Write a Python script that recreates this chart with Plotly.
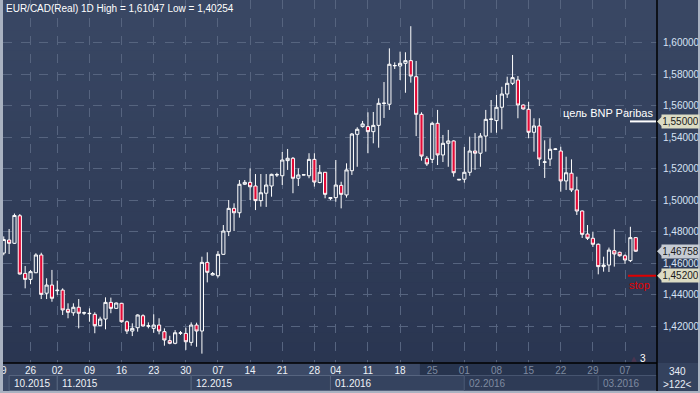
import plotly.graph_objects as go

# ---------------- data (EUR/CAD daily) ----------------
opens = [1.4664, 1.4747, 1.4726, 1.4901, 1.4535, 1.4497, 1.4539, 1.4652, 1.4409, 1.4461,
         1.4425, 1.4429, 1.4307, 1.4285, 1.4320, 1.4283, 1.4279, 1.4275, 1.4203, 1.4245,
         1.4351, 1.4313, 1.4345, 1.4228, 1.4169, 1.4190, 1.4266, 1.4200, 1.4186, 1.4207,
         1.4165, 1.4108, 1.4091, 1.4155, 1.4154, 1.4097, 1.4207, 1.4169, 1.4605, 1.4525,
         1.4520, 1.4656, 1.4800, 1.4948, 1.4920, 1.5101, 1.5113, 1.5090, 1.4997, 1.5044,
         1.5090, 1.5160, 1.5155, 1.5251, 1.5266, 1.5139, 1.5160, 1.5155, 1.5259, 1.5112,
         1.5177, 1.5010, 1.5016, 1.5094, 1.5033, 1.5187, 1.5418, 1.5467, 1.5467, 1.5435,
         1.5475, 1.5614, 1.5609, 1.5853, 1.5852, 1.5869, 1.5886, 1.5784, 1.5545, 1.5266,
         1.5259, 1.5488, 1.5287, 1.5361, 1.5376, 1.5128, 1.5133, 1.5177, 1.5312, 1.5298,
         1.5407, 1.5512, 1.5505, 1.5590, 1.5674, 1.5742, 1.5763, 1.5604, 1.5577, 1.5431,
         1.5471, 1.5240, 1.5261, 1.5322, 1.5312, 1.5122, 1.5171, 1.5065, 1.4931, 1.4785,
         1.4758, 1.4720, 1.4578, 1.4588, 1.4679, 1.4669, 1.4647, 1.4616, 1.4762]
highs = [1.4770, 1.4817, 1.4915, 1.4912, 1.4582, 1.4557, 1.4663, 1.4666, 1.4504, 1.4557,
         1.4489, 1.4440, 1.4345, 1.4345, 1.4372, 1.4292, 1.4313, 1.4288, 1.4260, 1.4383,
         1.4381, 1.4350, 1.4348, 1.4235, 1.4218, 1.4275, 1.4275, 1.4224, 1.4275, 1.4250,
         1.4186, 1.4139, 1.4175, 1.4169, 1.4190, 1.4224, 1.4222, 1.4641, 1.4669, 1.4544,
         1.4677, 1.4842, 1.5001, 1.4980, 1.5128, 1.5128, 1.5202, 1.5166, 1.5166, 1.5166,
         1.5168, 1.5174, 1.5306, 1.5325, 1.5274, 1.5202, 1.5163, 1.5298, 1.5298, 1.5223,
         1.5179, 1.5018, 1.5255, 1.5117, 1.5234, 1.5426, 1.5463, 1.5503, 1.5558, 1.5560,
         1.5647, 1.5750, 1.5964, 1.5875, 1.5943, 1.5939, 1.61047, 1.5884, 1.5558, 1.5280,
         1.5498, 1.5573, 1.5414, 1.5446, 1.5380, 1.5134, 1.5338, 1.5403, 1.5426, 1.5426,
         1.5573, 1.5636, 1.5668, 1.5720, 1.5784, 1.5922, 1.5788, 1.5608, 1.5625, 1.5520,
         1.5520, 1.5380, 1.5393, 1.5330, 1.5339, 1.5276, 1.5259, 1.5149, 1.4935, 1.4842,
         1.4800, 1.4725, 1.4641, 1.4699, 1.4815, 1.4673, 1.4656, 1.4831, 1.4765]
lows = [1.4650, 1.4658, 1.4722, 1.4528, 1.4440, 1.4466, 1.4537, 1.4372, 1.4372, 1.4355,
        1.4398, 1.4271, 1.4250, 1.4266, 1.4186, 1.4271, 1.4228, 1.4155, 1.4201, 1.4180,
        1.4282, 1.4310, 1.4222, 1.4150, 1.4137, 1.4165, 1.4197, 1.4186, 1.4158, 1.4148,
        1.4076, 1.4085, 1.4085, 1.4144, 1.4049, 1.4076, 1.4069, 1.40254, 1.4478, 1.4522,
        1.4508, 1.4654, 1.4772, 1.4804, 1.4889, 1.5096, 1.5001, 1.4937, 1.4959, 1.4957,
        1.5022, 1.5147, 1.5096, 1.5192, 1.5044, 1.5090, 1.5158, 1.5139, 1.5086, 1.5107,
        1.5012, 1.5000, 1.4990, 1.4948, 1.5016, 1.5160, 1.5212, 1.5461, 1.5298, 1.5361,
        1.5333, 1.5522, 1.5573, 1.5833, 1.5763, 1.5682, 1.5746, 1.5407, 1.5251, 1.5217,
        1.5236, 1.5223, 1.5242, 1.5212, 1.5149, 1.5126, 1.5111, 1.5155, 1.5192, 1.5212,
        1.5308, 1.5428, 1.5428, 1.5450, 1.5649, 1.5731, 1.5520, 1.5575, 1.5393, 1.5308,
        1.5217, 1.5141, 1.5217, 1.5318, 1.5054, 1.5065, 1.5052, 1.4906, 1.4760, 1.4747,
        1.4703, 1.4529, 1.4546, 1.4544, 1.4578, 1.4641, 1.4595, 1.4607, 1.4672]
closes = [1.4750, 1.4726, 1.4903, 1.4531, 1.4497, 1.4546, 1.4652, 1.4402, 1.4461, 1.4377,
          1.4428, 1.4303, 1.4288, 1.4320, 1.4282, 1.4285, 1.4281, 1.4203, 1.4245, 1.4351,
          1.4313, 1.4347, 1.4228, 1.4169, 1.4186, 1.4271, 1.4201, 1.4202, 1.4207, 1.4169,
          1.4112, 1.4091, 1.4158, 1.4157, 1.4101, 1.4207, 1.4169, 1.4605, 1.4542, 1.4534,
          1.4656, 1.4804, 1.4948, 1.4920, 1.5101, 1.5113, 1.5085, 1.4997, 1.5047, 1.5096,
          1.5164, 1.5162, 1.5255, 1.5266, 1.5139, 1.5160, 1.5161, 1.5259, 1.5115, 1.5177,
          1.5037, 1.5016, 1.5096, 1.5037, 1.5192, 1.5420, 1.5450, 1.5484, 1.5435, 1.5475,
          1.5615, 1.5616, 1.5863, 1.5855, 1.5869, 1.5886, 1.5788, 1.5545, 1.5280, 1.5230,
          1.5488, 1.5287, 1.5361, 1.5376, 1.5174, 1.5132, 1.5177, 1.5312, 1.5298, 1.5407,
          1.5513, 1.5515, 1.5590, 1.5674, 1.5742, 1.5778, 1.5604, 1.5579, 1.5431, 1.5471,
          1.5261, 1.5243, 1.5323, 1.5325, 1.5122, 1.5174, 1.5065, 1.4931, 1.4783, 1.4758,
          1.4720, 1.4578, 1.4588, 1.4683, 1.4658, 1.4647, 1.4620, 1.4762, 1.46758]

# week-start ticks (bar number -> day label)
tick_bars = [0, 5, 10, 16, 22, 28, 34, 40, 46, 52, 58, 62, 68, 74, 80, 86, 92, 98, 104, 110, 116]
tick_days = ["9", "26", "02", "09", "16", "23", "30", "07", "14", "21", "28",
             "04", "11", "18", "25", "01", "08", "15", "22", "29", "07"]
# month strip
month_labels = ["10.2015", "11.2015", "12.2015", "01.2016", "02.2016", "03.2016"]
month_first_bar = [1, 10, 35, 61, 86, 111]
price_ticks = [1.42, 1.44, 1.46, 1.48, 1.50, 1.52, 1.54, 1.56, 1.58, 1.60]

title_text = "EUR/CAD(Real) 1D High = 1,61047 Low = 1,40254"
target_price = 1.55000
stop_price = 1.45200
last_price = closes[-1]
shaded_from_bar = 77.7

# ---------------- geometry helpers ----------------
W, H = 700, 393
ML, MR, MT, MB = 3, 43, 0, 30
PW, PH = W - ML - MR, H - MT - MB
x_range = [-0.14, 121.97]
y_range = [1.3966, 1.6271]
FONT = "Liberation Sans, Arial, sans-serif"


def px(xpix):
    return (xpix - ML) / PW


def py(ypix):
    return (H - MB - ypix) / PH


bars = list(range(len(opens)))

fig = go.Figure()
fig.add_trace(go.Candlestick(
    x=bars, open=opens, high=highs, low=lows, close=closes,
    increasing=dict(line=dict(color="#ffffff", width=1), fillcolor="#33425f"),
    decreasing=dict(line=dict(color="#ffffff", width=1), fillcolor="#e20a36"),
    whiskerwidth=0, hoverinfo="skip", showlegend=False,
))

shapes = []
# background gradient (plot + right axis area)
top = (57, 71, 100)
bot = (42, 54, 81)
N = 36
for k in range(N):
    t = k / (N - 1)
    c = tuple(int(round(top[j] + (bot[j] - top[j]) * t)) for j in range(3))
    shapes.append(dict(type="rect", xref="paper", yref="paper", layer="below",
                       x0=px(0), x1=px(W), y0=1 - (k + 1) / N - 0.002, y1=1 - k / N,
                       fillcolor="rgb(%d,%d,%d)" % c, line=dict(width=0)))
# bottom strip
shapes.append(dict(type="rect", xref="paper", yref="paper", layer="below",
                   x0=px(0), x1=1, y0=py(H), y1=0,
                   fillcolor="#3c4a67", line=dict(width=0)))
shapes.append(dict(type="rect", xref="x", yref="paper", layer="below",
                   x0=shaded_from_bar, x1=x_range[1], y0=py(H), y1=0,
                   fillcolor="#27344e", line=dict(width=0)))
# month boxes
bounds = month_first_bar + [x_range[1]]
for k, lab in enumerate(month_labels):
    dark = bounds[k] >= shaded_from_bar
    shapes.append(dict(type="rect", xref="x", yref="paper", layer="below",
                       x0=bounds[k], x1=bounds[k + 1], y0=py(390.5), y1=py(375.5),
                       fillcolor="#2e3b56" if dark else "#35435f",
                       line=dict(color="#46546f" if dark else "#56647f", width=1)))
# right bottom box
shapes.append(dict(type="rect", xref="paper", yref="paper", layer="below",
                   x0=1, x1=px(W), y0=py(H), y1=0,
                   fillcolor="#34425e", line=dict(width=0)))
# separator lines
shapes.append(dict(type="line", xref="paper", yref="paper", x0=1, x1=1,
                   y0=py(391), y1=1, line=dict(color="#000000", width=1.5)))
shapes.append(dict(type="line", xref="paper", yref="paper", x0=px(0), x1=1,
                   y0=0, y1=0, line=dict(color="#000000", width=1.5)))
# frame
shapes.append(dict(type="rect", xref="paper", yref="paper", x0=px(0), x1=px(3),
                   y0=py(H), y1=py(0), fillcolor="#a9b2c1", line=dict(width=0)))
shapes.append(dict(type="rect", xref="paper", yref="paper", x0=px(0), x1=px(W),
                   y0=py(H), y1=py(391), fillcolor="#a9b2c1", line=dict(width=0)))
shapes.append(dict(type="rect", xref="paper", yref="paper", x0=px(698), x1=px(W),
                   y0=py(H), y1=py(0), fillcolor="#a9b2c1", line=dict(width=0)))
# target & stop lines
shapes.append(dict(type="line", xref="paper", yref="y", x0=px(630), x1=px(656),
                   y0=target_price, y1=target_price, line=dict(color="#ffffff", width=2)))
shapes.append(dict(type="line", xref="paper", yref="y", x0=px(628), x1=px(656),
                   y0=stop_price, y1=stop_price, line=dict(color="#e00000", width=2)))

# price boxes on the right axis
ann = []
dpp = (y_range[1] - y_range[0]) / PH
for price, bg in [(target_price, "#dcdcc4"), (last_price, "#c6cbd3"), (stop_price, "#dcdcc4")]:
    shapes.append(dict(type="path", xref="paper", yref="y",
                       path="M %f,%f L %f,%f L %f,%f Z" % (px(657), price, px(662), price + 5 * dpp,
                                                           px(662), price - 5 * dpp),
                       fillcolor=bg, line=dict(width=0)))
    ann.append(dict(xref="paper", yref="y", x=px(661), y=price, xanchor="left", yanchor="middle",
                    text=("%.5f" % price).replace(".", ","), showarrow=False,
                    bgcolor=bg, borderpad=1, width=35,
                    font=dict(family=FONT, size=10, color="#1a1a1a")))

ann.append(dict(xref="paper", yref="paper", x=px(4), y=py(8), xanchor="left", yanchor="middle",
                text=title_text, showarrow=False,
                font=dict(family=FONT, size=10, color="#ffffff")))
ann.append(dict(xref="paper", yref="paper", x=px(655), y=py(113), xanchor="right", yanchor="middle",
                text="цель BNP Paribas", showarrow=False,
                font=dict(family=FONT, size=11, color="#ffffff")))
ann.append(dict(xref="paper", yref="paper", x=px(627), y=py(285), xanchor="left", yanchor="middle",
                text="stop", showarrow=False,
                font=dict(family=FONT, size=11, color="#e00000")))
ann.append(dict(xref="paper", yref="paper", x=px(643), y=py(358), xanchor="center", yanchor="middle",
                text="3", showarrow=False,
                font=dict(family=FONT, size=10, color="#ffffff")))
ann.append(dict(xref="paper", yref="paper", x=px(634), y=py(359), xanchor="center", yanchor="middle",
                text="▲", showarrow=False,
                font=dict(family="DejaVu Sans", size=7, color="#4a3550")))
for k, lab in enumerate(month_labels):
    dark = month_first_bar[k] >= shaded_from_bar
    ann.append(dict(xref="x", yref="paper", x=month_first_bar[k], y=py(383), xanchor="left",
                    yanchor="middle", xshift=3, text=lab, showarrow=False,
                    font=dict(family=FONT, size=10,
                              color="#7e8aa0" if dark else "#eef2f8")))
ann.append(dict(xref="paper", yref="paper", x=px(677), y=py(371), xanchor="center", yanchor="middle",
                text="340", showarrow=False,
                font=dict(family=FONT, size=10, color="#e8eef8")))
ann.append(dict(xref="paper", yref="paper", x=px(677), y=py(384), xanchor="center", yanchor="middle",
                text="&gt;122&lt;", showarrow=False,
                font=dict(family=FONT, size=10, color="#e8eef8")))

tick_text = []
for b, d in zip(tick_bars, tick_days):
    col = "#7e8aa0" if b >= shaded_from_bar else "#eef2f8"
    tick_text.append('<span style="color:%s">%s</span>' % (col, d))

fig.update_layout(
    width=W, height=H,
    margin=dict(l=ML, r=MR, t=MT, b=MB, pad=0),
    paper_bgcolor="#2f3c58", plot_bgcolor="rgba(0,0,0,0)",
    separators=", ",
    boxgap=0.15,
    shapes=shapes, annotations=ann,
    showlegend=False,
    xaxis=dict(range=x_range, tickmode="array", tickvals=tick_bars, ticktext=tick_text,
               showgrid=True, gridcolor="#56647f", griddash="dash", gridwidth=1,
               zeroline=False, showline=False, ticks="", rangeslider=dict(visible=False),
               tickfont=dict(family=FONT, size=10, color="#eef2f8"),
               fixedrange=True),
    yaxis=dict(range=y_range, side="right", tickmode="array", tickvals=price_ticks,
               tickformat=".5f", showgrid=True, gridcolor="#56647f", griddash="dash",
               gridwidth=1, zeroline=False, showline=False, ticks="outside", ticklen=3,
               tickcolor="rgba(0,0,0,0)",
               tickfont=dict(family=FONT, size=10, color="#d6e2f4"),
               fixedrange=True),
)

fig.write_html("out.html", config={"displayModeBar": False, "staticPlot": True},
               post_script="document.body.style.margin='0px';document.body.style.overflow='hidden';")
